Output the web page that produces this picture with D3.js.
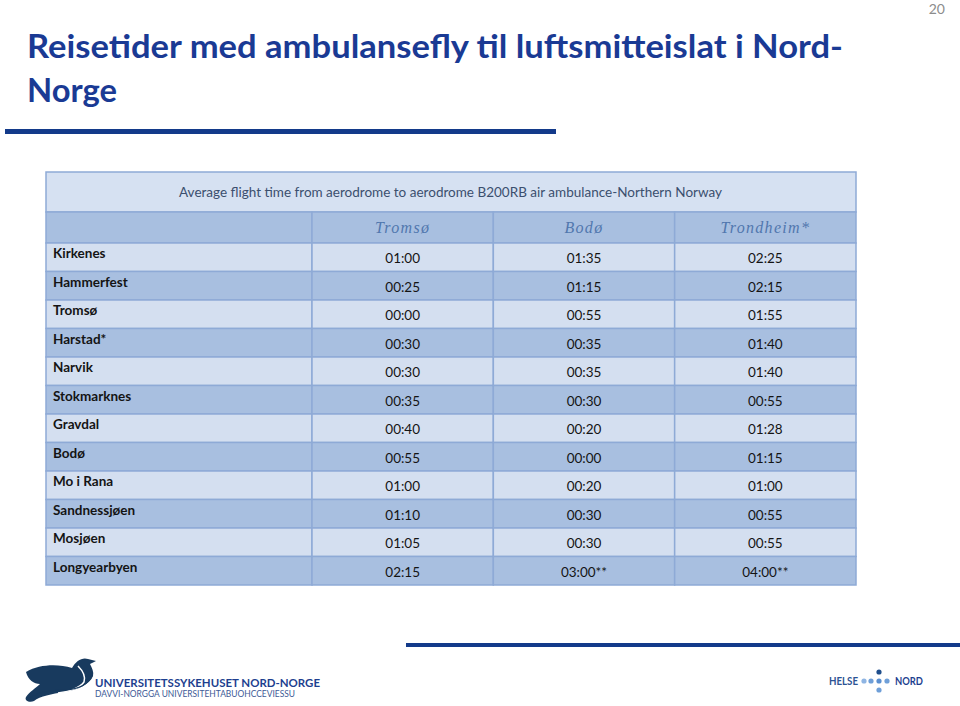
<!DOCTYPE html>
<html>
<head>
<meta charset="utf-8">
<script src="https://cdn.jsdelivr.net/npm/d3@7"></script>
<style>
  html, body { margin: 0; padding: 0; background: #ffffff; }
  svg { display: block; }
</style>
</head>
<body>
<svg id="chart" width="960" height="706"></svg>
<script>
// ---- Data ----
const pageNumber = "20";
const titleLines = ["Reisetider med ambulansefly til luftsmitteislat i Nord-", "Norge"];
const tableCaption = "Average flight time from aerodrome to aerodrome B200RB air ambulance-Northern Norway";
const bases = ["Tromsø", "Bodø", "Trondheim*"];
const destinations = ["Kirkenes", "Hammerfest", "Tromsø", "Harstad*", "Narvik", "Stokmarknes",
  "Gravdal", "Bodø", "Mo i Rana", "Sandnessjøen", "Mosjøen", "Longyearbyen"];
const fromTromso    = ["01:00", "00:25", "00:00", "00:30", "00:30", "00:35", "00:40", "00:55", "01:00", "01:10", "01:05", "02:15"];
const fromBodo      = ["01:35", "01:15", "00:55", "00:35", "00:35", "00:30", "00:20", "00:00", "00:20", "00:30", "00:30", "03:00**"];
const fromTrondheim = ["02:25", "02:15", "01:55", "01:40", "01:40", "00:55", "01:28", "01:15", "01:00", "00:55", "00:55", "04:00**"];

const seriesValues = [fromTromso, fromBodo, fromTrondheim];

// ---- Layout ----
const svg = d3.select("#chart");
const tableLeft = 46, firstColRight = 312, tableRight = 856;
const captionTop = 172, headerTop = 212, rowsTop = 243, rowsBottom = 585;

const lightFill = "#d4dff0", darkFill = "#a8bfe0", borderColor = "#8eaad6";
const titleBlue = "#1a3a94";

const x = d3.scaleBand().domain(bases).range([firstColRight, tableRight]).padding(0);
const y = d3.scaleBand().domain(destinations).range([rowsTop, rowsBottom]).padding(0);

// Page number
svg.append("text").attr("x", 945).attr("y", 14).attr("text-anchor", "end")
  .attr("font-family", "Lato, sans-serif").attr("font-size", 14).attr("fill", "#8c8c8c")
  .text(pageNumber);

// Title
const titleWidths = [816, 90];
titleLines.forEach((t, i) => {
  svg.append("text").attr("x", 27).attr("y", 58 + i * 44)
    .attr("font-family", "Lato, sans-serif").attr("font-weight", 700).attr("font-size", 33)
    .attr("fill", titleBlue)
    .attr("textLength", titleWidths[i]).attr("lengthAdjust", "spacingAndGlyphs")
    .text(t);
});
svg.append("rect").attr("x", 5).attr("y", 129).attr("width", 551).attr("height", 5).attr("fill", "#133a8a");

// Table caption row
svg.append("rect").attr("x", tableLeft).attr("y", captionTop)
  .attr("width", tableRight - tableLeft).attr("height", headerTop - captionTop)
  .attr("fill", "#d6e1f2").attr("stroke", borderColor).attr("stroke-width", 1.5);
svg.append("text").attr("x", 179).attr("y", 197)
  .attr("font-family", "Lato, sans-serif").attr("font-size", 14).attr("fill", "#3b4f6e")
  .attr("textLength", 543).attr("lengthAdjust", "spacingAndGlyphs")
  .text(tableCaption);

// Header row
svg.append("rect").attr("x", tableLeft).attr("y", headerTop)
  .attr("width", firstColRight - tableLeft).attr("height", rowsTop - headerTop)
  .attr("fill", darkFill).attr("stroke", borderColor).attr("stroke-width", 1.5);
const headerG = svg.append("g");
headerG.selectAll("rect").data(bases).join("rect")
  .attr("x", d => x(d)).attr("y", headerTop)
  .attr("width", x.bandwidth()).attr("height", rowsTop - headerTop)
  .attr("fill", darkFill).attr("stroke", borderColor).attr("stroke-width", 1.5);
headerG.selectAll("text").data(bases).join("text")
  .attr("x", d => x(d) + x.bandwidth() / 2).attr("y", 233)
  .attr("text-anchor", "middle")
  .attr("font-family", "'Liberation Serif', 'DejaVu Serif', serif").attr("font-style", "italic")
  .attr("font-size", 16).attr("letter-spacing", 1.3).attr("fill", "#5177ae")
  .text(d => d);

// Body rows
const rows = svg.append("g").selectAll("g").data(destinations).join("g");
rows.append("rect")
  .attr("x", tableLeft).attr("y", d => y(d))
  .attr("width", firstColRight - tableLeft).attr("height", y.bandwidth())
  .attr("fill", (d, i) => i % 2 === 0 ? lightFill : darkFill)
  .attr("stroke", borderColor).attr("stroke-width", 1.5);
rows.append("text")
  .attr("x", 53).attr("y", d => y(d) + 15)
  .attr("font-family", "Lato, sans-serif").attr("font-weight", 700).attr("font-size", 13.5)
  .attr("fill", "#141414")
  .text(d => d);

bases.forEach((b, j) => {
  const vals = seriesValues[j];
  const g = svg.append("g");
  g.selectAll("rect").data(destinations).join("rect")
    .attr("x", x(b)).attr("y", d => y(d))
    .attr("width", x.bandwidth()).attr("height", y.bandwidth())
    .attr("fill", (d, i) => i % 2 === 0 ? lightFill : darkFill)
    .attr("stroke", borderColor).attr("stroke-width", 1.5);
  g.selectAll("text").data(destinations).join("text")
    .attr("x", x(b) + x.bandwidth() / 2).attr("y", d => y(d) + 20)
    .attr("text-anchor", "middle")
    .attr("font-family", "Lato, sans-serif").attr("font-size", 13.5).attr("fill", "#141414")
    .text((d, i) => vals[i]);
});

// Bottom line
svg.append("rect").attr("x", 406).attr("y", 643).attr("width", 554).attr("height", 4).attr("fill", "#133a8a");

// UNN logo (penguin)
const logo = svg.append("g");
logo.append("path")
  .attr("d", "M26,672 C40,664 58,664 72,668 C76,661 82,657 88,659 L96,661 L90,664 C92,668 94,672 93,676 C90,684 78,690 64,692 C52,694 40,696 34,701 C30,703 24,701 26,697 C29,692 36,688 40,684 C34,684 28,680 26,672 Z")
  .attr("fill", "#183a5e");
logo.append("path")
  .attr("d", "M78,666 C82,670 86,676 84,682 C80,688 68,692 58,693")
  .attr("fill", "none").attr("stroke", "#ffffff").attr("stroke-width", 1.5);
logo.append("path")
  .attr("d", "M30,698 C38,692 52,690 66,690 C78,689 88,684 92,676")
  .attr("fill", "none").attr("stroke", "#183a5e").attr("stroke-width", 1.2);
logo.append("text").attr("x", 95).attr("y", 687)
  .attr("font-family", "Lato, sans-serif").attr("font-weight", 700).attr("font-size", 11)
  .attr("fill", "#1e3f8f").attr("textLength", 225).attr("lengthAdjust", "spacingAndGlyphs")
  .text("UNIVERSITETSSYKEHUSET NORD-NORGE");
logo.append("text").attr("x", 95).attr("y", 697)
  .attr("font-family", "Lato, sans-serif").attr("font-size", 8.5)
  .attr("fill", "#3d5a96").attr("textLength", 200).attr("lengthAdjust", "spacingAndGlyphs")
  .text("DAVVI-NORGGA UNIVERSITEHTABUOHCCEVIESSU");

// Helse Nord logo
const hn = svg.append("g");
hn.append("text").attr("x", 829).attr("y", 685)
  .attr("font-family", "Lato, sans-serif").attr("font-weight", 700).attr("font-size", 11)
  .attr("fill", "#2d5393").attr("textLength", 29).attr("lengthAdjust", "spacingAndGlyphs").text("HELSE");
hn.append("text").attr("x", 895).attr("y", 685)
  .attr("font-family", "Lato, sans-serif").attr("font-weight", 700).attr("font-size", 11)
  .attr("fill", "#1e3f8f").attr("textLength", 28).attr("lengthAdjust", "spacingAndGlyphs").text("NORD");
const dots = [[864, 681, "#8fb5e3"], [871, 681, "#6f9fd8"], [879, 681, "#5b8fd0"], [887, 681, "#6f9fd8"],
              [879, 672, "#1f4e8c"], [879, 690, "#6f9fd8"]];
hn.selectAll("circle").data(dots).join("circle")
  .attr("cx", d => d[0]).attr("cy", d => d[1]).attr("r", 2.6).attr("fill", d => d[2]);
</script>
</body>
</html>
